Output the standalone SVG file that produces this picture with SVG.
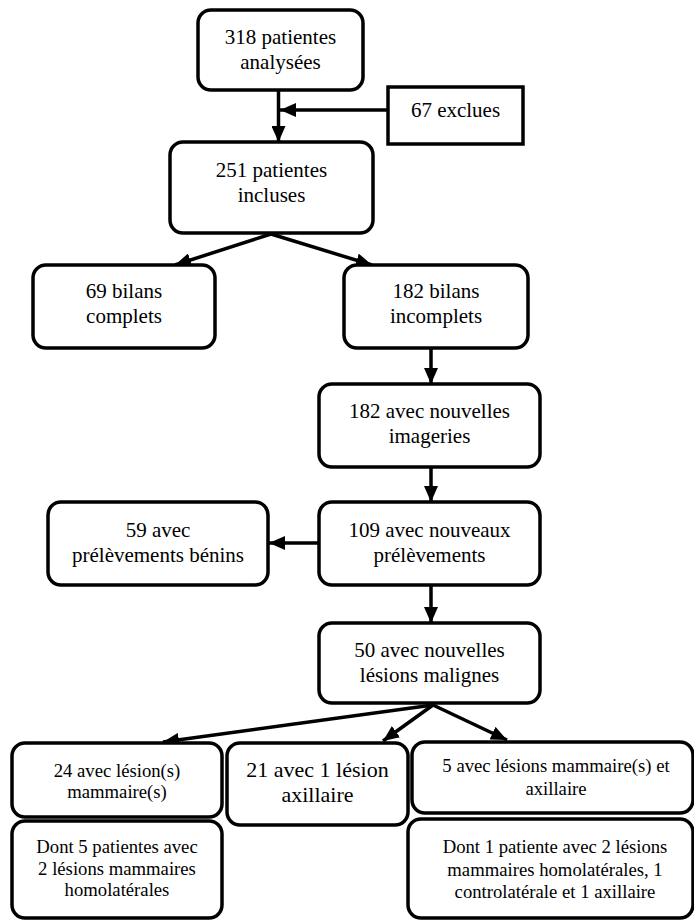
<svg xmlns="http://www.w3.org/2000/svg" width="694" height="921" viewBox="0 0 694 921">
<style>
.box{fill:#fff;stroke:#000;stroke-width:3.5}
.t{font-size:21px;fill:#000;text-anchor:middle}
.s{font-size:18.7px}
.l{font-size:22px}
.c{stroke:#000;stroke-width:3.5;fill:none;marker-end:url(#ah)}
</style>
<defs>
<marker id="ah" markerUnits="userSpaceOnUse" markerWidth="16" markerHeight="14" refX="16" refY="7" orient="auto">
<path d="M0,0 L16,7 L0,14 z" fill="#000"/>
</marker>
</defs>
<rect width="694" height="921" fill="#fff"/>
<g id="connectors">
<line class="c" x1="278.5" y1="90" x2="278.5" y2="142"/>
<line class="c" x1="388" y1="110" x2="280" y2="110"/>
<line class="c" x1="271" y1="234" x2="175" y2="265"/>
<line class="c" x1="271" y1="234" x2="372" y2="265"/>
<line class="c" x1="431" y1="348" x2="431" y2="384"/>
<line class="c" x1="431" y1="467" x2="431" y2="502"/>
<line class="c" x1="319" y1="543" x2="269" y2="543"/>
<line class="c" x1="431" y1="585" x2="431" y2="623"/>
<line class="c" x1="433" y1="705" x2="163" y2="742"/>
<line class="c" x1="433" y1="705" x2="383" y2="741"/>
<line class="c" x1="433" y1="705" x2="507" y2="740"/>
</g>
<g font-family="Liberation Serif, Tinos, Times New Roman, serif">
<g id="n318">
<rect class="box" x="198" y="10" width="165" height="80" rx="13"/>
<text class="t" x="280.5" y="44">318 patientes</text>
<text class="t" x="280.5" y="69">analysées</text>
</g>
<g id="n67">
<rect class="box" x="388" y="87" width="135" height="57"/>
<text class="t" x="455.5" y="117">67 exclues</text>
</g>
<g id="n251">
<rect class="box" x="170" y="142" width="203" height="91" rx="13"/>
<text class="t" x="271.5" y="177">251 patientes</text>
<text class="t" x="271.5" y="202">incluses</text>
</g>
<g id="n69">
<rect class="box" x="33" y="265" width="182" height="83" rx="13"/>
<text class="t" x="124" y="298">69 bilans</text>
<text class="t" x="124" y="323">complets</text>
</g>
<g id="n182b">
<rect class="box" x="344" y="265" width="184" height="83" rx="13"/>
<text class="t" x="436" y="298">182 bilans</text>
<text class="t" x="436" y="323">incomplets</text>
</g>
<g id="n182i">
<rect class="box" x="319" y="384" width="221" height="83" rx="13"/>
<text class="t" x="429.5" y="418">182 avec nouvelles</text>
<text class="t" x="429.5" y="443">imageries</text>
</g>
<g id="n59">
<rect class="box" x="48" y="502" width="220" height="83" rx="13"/>
<text class="t" x="158" y="537">59 avec</text>
<text class="t" x="158" y="562">prélèvements bénins</text>
</g>
<g id="n109">
<rect class="box" x="319" y="502" width="221" height="83" rx="13"/>
<text class="t" x="429.5" y="537">109 avec nouveaux</text>
<text class="t" x="429.5" y="562">prélèvements</text>
</g>
<g id="n50">
<rect class="box" x="319" y="623" width="221" height="80" rx="13"/>
<text class="t" x="429.5" y="657">50 avec nouvelles</text>
<text class="t" x="429.5" y="682">lésions malignes</text>
</g>
<g id="n24">
<rect class="box" x="12" y="743" width="210" height="74" rx="13"/>
<text class="t s" x="117" y="777">24 avec lésion(s)</text>
<text class="t s" x="117" y="798">mammaire(s)</text>
</g>
<g id="n21">
<rect class="box" x="227" y="743" width="181" height="82" rx="13"/>
<text class="t l" x="317.5" y="777">21 avec 1 lésion</text>
<text class="t l" x="317.5" y="802">axillaire</text>
</g>
<g id="n5">
<rect class="box" x="412" y="742" width="281" height="71" rx="13"/>
<text class="t s" x="556" y="772">5 avec lésions mammaire(s) et</text>
<text class="t s" x="556" y="795">axillaire</text>
</g>
<g id="nd5">
<rect class="box" x="12" y="821" width="210" height="97" rx="13"/>
<text class="t s" x="117" y="853">Dont 5 patientes avec</text>
<text class="t s" x="117" y="875">2 lésions mammaires</text>
<text class="t s" x="117" y="896">homolatérales</text>
</g>
<g id="nd1">
<rect class="box" x="408" y="819" width="285" height="99" rx="13"/>
<text class="t s" x="555" y="853">Dont 1 patiente avec 2 lésions</text>
<text class="t s" x="555" y="876">mammaires homolatérales, 1</text>
<text class="t s" x="555" y="898">controlatérale et 1 axillaire</text>
</g>
</g>
</svg>
